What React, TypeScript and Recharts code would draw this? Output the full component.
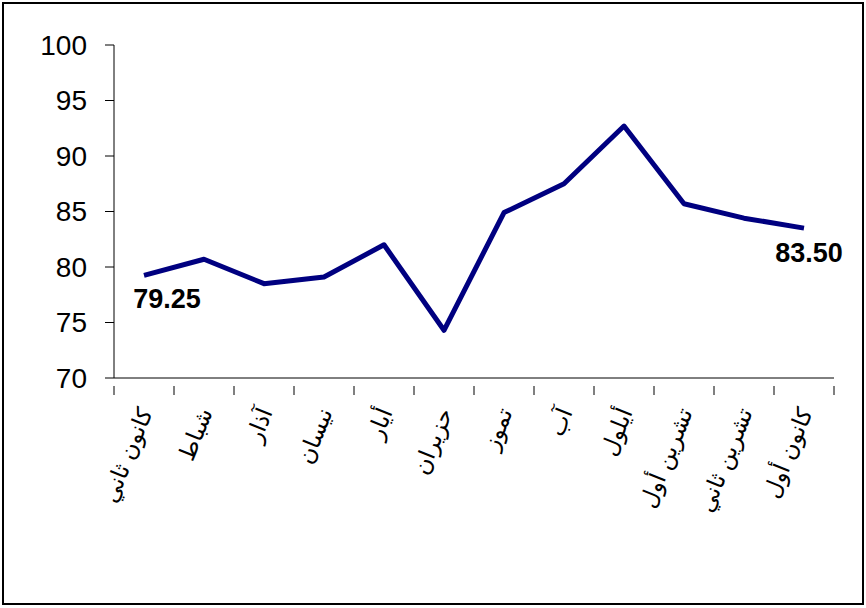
import React from 'react';
import { LineChart, Line, XAxis, YAxis, LabelList } from 'recharts';

const months = [
  'كانون ثاني',
  'شباط',
  'آذار',
  'نيسان',
  'أيار',
  'حزيران',
  'تموز',
  'آب',
  'أيلول',
  'تشرين أول',
  'تشرين ثاني',
  'كانون أول',
];

const values = [79.25, 80.7, 78.5, 79.1, 82.0, 74.3, 84.9, 87.5, 92.7, 85.7, 84.4, 83.5];

const yTicks = [70, 75, 80, 85, 90, 95, 100];

const data = months.map((m, i) => ({ month: m, pos: i + 0.5, value: values[i] }));

const xTicks: number[] = [];
for (let i = 0; i <= months.length * 2; i++) xTicks.push(i / 2);

const labelIndexes = [0, months.length - 1];
const labelOffsets: Record<number, [number, number]> = {
  0: [23, 24],
  11: [5, 25],
};

const XTick = (props: any) => {
  const { x, y, payload } = props;
  const v = payload.value as number;
  if (Number.isInteger(v)) {
    return <line x1={x} y1={y} x2={x} y2={y + 9} stroke="#000" strokeWidth={1} />;
  }
  const idx = Math.floor(v);
  const ax = x + 9;
  const ay = y + 26;
  return (
    <text
      x={ax}
      y={ay}
      transform={`rotate(-68 ${ax} ${ay})`}
      textAnchor="end"
      fontSize={23}
      fontFamily="DejaVu Sans, sans-serif"
      fill="#000"
    >
      {months[idx]}
    </text>
  );
};

const DataLabel = (props: any) => {
  const { x, y, value, index } = props;
  if (!labelIndexes.includes(index)) return null;
  const off = labelOffsets[index] || [0, 24];
  return (
    <text
      x={x + off[0]}
      y={y + off[1]}
      textAnchor="middle"
      dominantBaseline="central"
      fontSize={27}
      fontWeight="bold"
      fontFamily="Liberation Sans, Arial, sans-serif"
      fill="#000"
    >
      {Number(value).toFixed(2)}
    </text>
  );
};

export default function App() {
  return (
    <div style={{ position: 'absolute', left: 0, top: 0, width: 866, height: 608, background: '#fff' }}>
      <div
        style={{
          position: 'absolute',
          left: 2,
          top: 2,
          width: 862,
          height: 603,
          border: '2px solid #000',
          boxSizing: 'border-box',
        }}
      />
      <div style={{ position: 'absolute', left: 0, top: 0 }}>
        <LineChart
          width={866}
          height={608}
          data={data}
          margin={{ top: 45, right: 32, bottom: 80, left: 0 }}
        >
          <XAxis
            dataKey="pos"
            type="number"
            domain={[0, months.length]}
            ticks={xTicks}
            interval={0}
            tickLine={false}
            axisLine={{ stroke: '#000', strokeWidth: 1 }}
            tick={<XTick />}
            height={150}
            allowDecimals
          />
          <YAxis
            domain={[70, 100]}
            ticks={yTicks}
            interval={0}
            width={114}
            tickSize={9}
            tickMargin={18}
            axisLine={{ stroke: '#000', strokeWidth: 1 }}
            tickLine={{ stroke: '#000', strokeWidth: 1 }}
            tick={{ fontSize: 28, fill: '#000', fontFamily: 'Liberation Sans, Arial, sans-serif' }}
          />
          <Line
            type="linear"
            dataKey="value"
            stroke="#000080"
            strokeWidth={5}
            strokeLinejoin="round"
            dot={false}
            activeDot={false}
            isAnimationActive={false}
          >
            <LabelList dataKey="value" content={<DataLabel />} />
          </Line>
        </LineChart>
      </div>
    </div>
  );
}
